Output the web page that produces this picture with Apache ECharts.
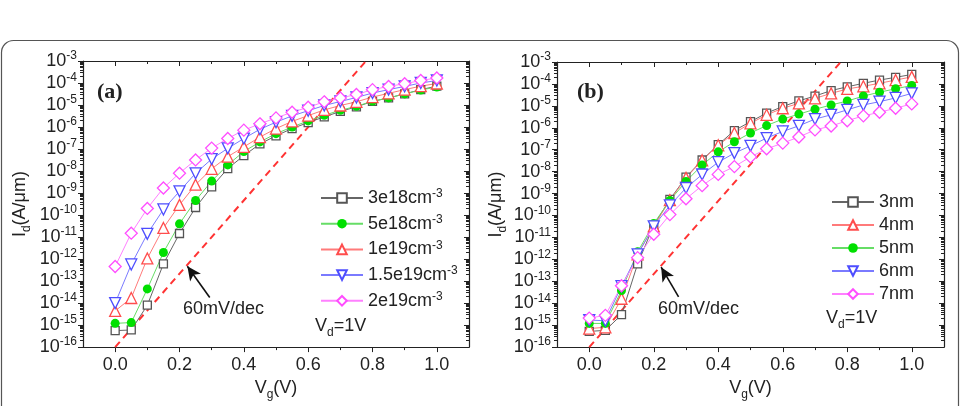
<!DOCTYPE html>
<html>
<head>
<meta charset="utf-8">
<script src="https://cdn.jsdelivr.net/npm/echarts@6/dist/echarts.min.js"></script>
<style>
  html, body { margin: 0; padding: 0; background: #fff; }
  #chart { width: 971px; height: 406px; }
</style>
</head>
<body>
<div id="chart"></div>
<script>
// gate voltage (V)
const vg = [0, 0.05, 0.1, 0.15, 0.2, 0.25, 0.3, 0.35, 0.4, 0.45, 0.5,
  0.55, 0.6, 0.65, 0.7, 0.75, 0.8, 0.85, 0.9, 0.95, 1.0];

// (a) doping sweep, Id (A/um)
const a3e18 = [5.6e-16, 6e-16, 8e-15, 6e-13, 1.45e-11, 2.2e-10, 1.9e-9, 1.3e-8, 5e-8, 1.7e-7, 4e-7,
  8.5e-7, 1.6e-6, 2.9e-6, 5.1e-6, 8.3e-6, 1.45e-5, 2.1e-5, 3.2e-5, 5e-5, 7.2e-5];
const a5e18 = [1.2e-15, 1.3e-15, 4.4e-14, 2e-12, 4e-11, 4.6e-10, 3.5e-9, 1.9e-8, 7.7e-8, 2.1e-7, 5e-7,
  1e-6, 1.9e-6, 3.4e-6, 5.8e-6, 8.7e-6, 1.5e-5, 2.1e-5, 3.2e-5, 4.8e-5, 6.6e-5];
const a1e19 = [4.4e-15, 1.7e-14, 1.07e-12, 2.6e-11, 2.9e-10, 2.4e-9, 1.26e-8, 4.5e-8, 1.25e-7, 3.5e-7, 8.5e-7,
  1.8e-6, 3.3e-6, 6e-6, 9.5e-6, 1.4e-5, 2.3e-5, 3.4e-5, 5e-5, 7.2e-5, 9.5e-5];
const a15e19 = [1e-14, 5.7e-13, 1.4e-11, 1.8e-10, 1.2e-9, 7.9e-9, 3.5e-8, 1.07e-7, 3e-7, 7.9e-7, 1.66e-6,
  3.2e-6, 5.5e-6, 9.5e-6, 1.45e-5, 2.2e-5, 3.5e-5, 5e-5, 7e-5, 1e-4, 1.3e-4];
const a2e19 = [4.6e-13, 1.5e-11, 2e-10, 1.7e-9, 8e-9, 3.2e-8, 1.1e-7, 3e-7, 7.2e-7, 1.4e-6, 2.6e-6,
  4.7e-6, 7.9e-6, 1.4e-5, 2.1e-5, 3e-5, 5e-5, 7e-5, 9.3e-5, 1.3e-4, 1.7e-4];

// (b) thickness sweep, Id (A/um)
const b3nm = [5.2e-16, 5.8e-16, 3e-15, 6.2e-13, 3.6e-11, 5.4e-10, 5.6e-9, 3.4e-8, 1.7e-7, 7.5e-7, 1.9e-6,
  4.7e-6, 9.3e-6, 1.7e-5, 2.8e-5, 5e-5, 7.4e-5, 1.07e-4, 1.5e-4, 2e-4, 2.7e-4];
const b4nm = [7e-16, 8e-16, 1.6e-14, 1.7e-12, 3.2e-11, 5e-10, 5.2e-9, 3.3e-8, 1.6e-7, 5.8e-7, 1.6e-6,
  3.9e-6, 7.8e-6, 1.3e-5, 2.2e-5, 3.7e-5, 5.9e-5, 7.8e-5, 1.07e-4, 1.5e-4, 2.1e-4];
const b5nm = [1.2e-15, 1.2e-15, 3.8e-14, 2.2e-12, 4.3e-11, 4.9e-10, 3.6e-9, 2e-8, 8e-8, 2.3e-7, 5.8e-7,
  1.26e-6, 2.5e-6, 4.2e-6, 7e-6, 1.1e-5, 1.66e-5, 2.8e-5, 4.2e-5, 6e-5, 8.5e-5];
const b6nm = [1.7e-15, 1.6e-15, 6e-14, 1.7e-12, 3.2e-11, 2.9e-10, 1.8e-9, 7.4e-9, 2.7e-8, 7e-8, 1.5e-7,
  3.4e-7, 6.8e-7, 1.23e-6, 2.5e-6, 3.9e-6, 6.6e-6, 1.1e-5, 1.55e-5, 2.3e-5, 3.7e-5];
const b7nm = [2.1e-15, 2.8e-15, 6.3e-14, 1.2e-12, 1.4e-11, 1.1e-10, 5.8e-10, 2.3e-9, 7.5e-9, 1.7e-8, 4.7e-8,
  1.1e-7, 2e-7, 3.8e-7, 8e-7, 1.2e-6, 2.1e-6, 3.5e-6, 5.1e-6, 7.8e-6, 1.23e-5];

const namesA = ['3e18cm-3', '5e18cm-3', '1e19cm-3', '1.5e19cm-3', '2e19cm-3'];
const namesB = ['3nm', '4nm', '5nm', '6nm', '7nm'];

// 60 mV/dec reference line and arrow (Vg, Id)
const slopeVg = [0, 0.78];
const slopeId = [1e-16, 1e-3];
const arrowA = [[0.294, 1.8e-14], [0.2245, 4.7e-13]];
const arrowB = [[0.277, 1.95e-14], [0.223, 4.4e-13]];

// ticks
const xMajor = [0, 0.2, 0.4, 0.6, 0.8, 1.0];
const xMinor = [0.1, 0.3, 0.5, 0.7, 0.9];
const yMajor = [];
const yMinor = [];
for (let e = -16; e <= -3; e++) {
  yMajor.push(Math.pow(10, e));
  if (e < -3) for (let m = 2; m <= 9; m++) yMinor.push(m * Math.pow(10, e));
}

const FONT = '"Liberation Sans", Arial, sans-serif';
const AX = '#222';

const SQ = { symbol: 'rect', size: 8, stroke: '#555', fill: '#fff', line: '#666' };
const GR = { symbol: 'circle', size: 9, stroke: '#00e000', fill: '#00e000', line: '#66dd66' };
const RD = { symbol: 'triangle', size: 11, stroke: '#ff4d4d', fill: '#fff', line: '#ff7a7a' };
const BL = { symbol: 'triangle', size: 11, stroke: '#4d4dff', fill: '#fff', line: '#7a7aff', rotate: 180 };
const PK = { symbol: 'diamond', size: 12, stroke: '#ff4dff', fill: '#fff', line: '#ff80ff' };

function xAxes(g) {
  const base = { gridIndex: g, type: 'value', min: -0.1, max: 1.1, splitLine: { show: false } };
  const line = { onZero: false, lineStyle: { color: AX, width: 1.2 } };
  return [
    Object.assign({}, base, {
      position: 'bottom', axisLine: line,
      axisTick: { customValues: xMajor, length: 5, lineStyle: { color: AX } },
      axisLabel: { customValues: xMajor, formatter: v => v.toFixed(1), fontSize: 18, color: AX, fontFamily: FONT, margin: 9 },
      name: '{n|V}{d|g}{n|(V)}', nameLocation: 'middle', nameGap: 28,
      nameTextStyle: { color: AX, fontFamily: FONT, rich: {
        n: { fontSize: 18, fontFamily: FONT, color: AX, lineHeight: 22, verticalAlign: 'top', padding: [0, 0, 3, 0] },
        d: { fontSize: 12, fontFamily: FONT, color: AX, lineHeight: 14, verticalAlign: 'bottom' } } }
    }),
    Object.assign({}, base, {
      position: 'bottom', axisLine: { show: false, onZero: false },
      axisTick: { customValues: xMinor, length: 3, lineStyle: { color: AX } }, axisLabel: { show: false }
    }),
    Object.assign({}, base, {
      position: 'top', axisLine: line,
      axisTick: { customValues: xMajor, inside: true, length: 5, lineStyle: { color: AX } }, axisLabel: { show: false }
    }),
    Object.assign({}, base, {
      position: 'top', axisLine: { show: false, onZero: false },
      axisTick: { customValues: xMinor, inside: true, length: 3, lineStyle: { color: AX } }, axisLabel: { show: false }
    })
  ];
}

function yAxes(g, gap) {
  const base = { gridIndex: g, type: 'log', logBase: 10, min: 1e-16, max: 1e-3, splitLine: { show: false } };
  const line = { onZero: false, lineStyle: { color: AX, width: 1.2 } };
  return [
    Object.assign({}, base, {
      position: 'left', axisLine: line,
      axisTick: { customValues: yMajor, length: 5, lineStyle: { color: AX } },
      axisLabel: {
        customValues: yMajor, margin: 6,
        formatter: v => '{b|10}{s|' + Math.round(Math.log10(v)) + '}',
        rich: {
          b: { fontSize: 18, fontFamily: FONT, color: AX, lineHeight: 22 },
          s: { fontSize: 12, fontFamily: FONT, color: AX, lineHeight: 16, verticalAlign: 'top' }
        }
      },
      name: '{n|I}{d|d}{n|(A/\u03bcm)}', nameLocation: 'middle', nameGap: gap, nameRotate: 90,
      nameTextStyle: { color: AX, fontFamily: FONT, rich: {
        n: { fontSize: 18, fontFamily: FONT, color: AX, lineHeight: 22, verticalAlign: 'top', padding: [0, 0, 3, 0] },
        d: { fontSize: 12, fontFamily: FONT, color: AX, lineHeight: 14, verticalAlign: 'bottom' } } }
    }),
    Object.assign({}, base, {
      position: 'left', axisLine: { show: false, onZero: false },
      axisTick: { customValues: yMinor, length: 3, lineStyle: { color: AX } }, axisLabel: { show: false }
    }),
    Object.assign({}, base, {
      position: 'right', axisLine: line,
      axisTick: { customValues: yMajor, inside: true, length: 5, lineStyle: { color: AX } }, axisLabel: { show: false }
    }),
    Object.assign({}, base, {
      position: 'right', axisLine: { show: false, onZero: false },
      axisTick: { customValues: yMinor, inside: true, length: 3, lineStyle: { color: AX } }, axisLabel: { show: false }
    })
  ];
}

function curve(name, ys, st, g) {
  return {
    name: name, type: 'line', xAxisIndex: g * 4, yAxisIndex: g * 4,
    data: vg.map((x, i) => [x, ys[i]]),
    symbol: st.symbol, symbolSize: st.size, symbolRotate: st.rotate || 0,
    lineStyle: { color: st.line, width: 1 },
    itemStyle: { color: st.fill, borderColor: st.stroke, borderWidth: st.fill === '#fff' ? 1.3 : 0 },
    emphasis: { disabled: true },
    z: 3
  };
}

function slope(g, arrow) {
  return {
    type: 'line', xAxisIndex: g * 4, yAxisIndex: g * 4,
    data: slopeVg.map((x, i) => [x, slopeId[i]]),
    symbol: 'none', silent: true, z: 2,
    lineStyle: { color: '#ff3333', width: 2, type: [7, 5] },
    markLine: {
      silent: true, symbol: ['none', 'arrow'], symbolSize: [10, 14],
      label: { show: false },
      lineStyle: { color: '#111', width: 1.6, type: 'solid' },
      data: [[{ coord: arrow[0] }, { coord: arrow[1] }]]
    }
  };
}

function legend(names, left, top, gap) {
  return {
    data: names, orient: 'vertical', left: left, top: top,
    itemWidth: 42, itemHeight: 12, itemGap: gap,
    formatter: n => n.replace('cm-3', 'cm{s|-3}'),
    textStyle: {
      fontSize: 18, fontFamily: FONT, color: AX, lineHeight: 20,
      rich: { s: { fontSize: 12, fontFamily: FONT, color: AX, lineHeight: 12, verticalAlign: 'top' } }
    },
    selectedMode: false
  };
}

function vdText(x, y) {
  return {
    type: 'text', x: x, y: y,
    style: {
      text: '{n|V}{d|d}{n|=1V}', verticalAlign: 'middle',
      rich: {
        n: { fontSize: 18, fontFamily: FONT, fill: AX, lineHeight: 22, verticalAlign: 'top', padding: [0, 0, 3, 0] },
        d: { fontSize: 12, fontFamily: FONT, fill: AX, lineHeight: 14, verticalAlign: 'bottom' }
      }
    }
  };
}

function plainText(txt, x, y, font) {
  return { type: 'text', x: x, y: y, style: { text: txt, font: font, fill: AX, verticalAlign: 'middle' } };
}

const seriesA = [a3e18, a5e18, a1e19, a15e19, a2e19].map((d, i) => curve(namesA[i], d, [SQ, GR, RD, BL, PK][i], 0));
const seriesB = [b3nm, b4nm, b5nm, b6nm, b7nm].map((d, i) => curve(namesB[i], d, [SQ, RD, GR, BL, PK][i], 1));

const chart = echarts.init(document.getElementById('chart'));
chart.setOption({
  backgroundColor: '#fff',
  animation: false,
  grid: [
    { left: 83, top: 61, width: 386, height: 289 },
    { left: 557, top: 62, width: 387, height: 287 }
  ],
  xAxis: xAxes(0).concat(xAxes(1)),
  yAxis: yAxes(0, 50).concat(yAxes(1, 48)),
  legend: [legend(namesA, 315, 183, 5.7), legend(namesB, 826, 187, 3)],
  series: [slope(0, arrowA), slope(1, arrowB)].concat(seriesA, seriesB),
  graphic: [
    { type: 'rect', shape: { x: 1.5, y: 40.5, width: 957, height: 400, r: 12 },
      style: { fill: 'none', stroke: '#555', lineWidth: 1.2 }, silent: true },
    plainText('(a)', 97, 92, 'bold 22px "Liberation Serif", serif'),
    plainText('(b)', 577, 92, 'bold 22px "Liberation Serif", serif'),
    plainText('60mV/dec', 183, 309, '18px ' + FONT),
    plainText('60mV/dec', 658, 309, '18px ' + FONT),
    vdText(315, 328),
    vdText(826, 320)
  ]
});
</script>
</body>
</html>
